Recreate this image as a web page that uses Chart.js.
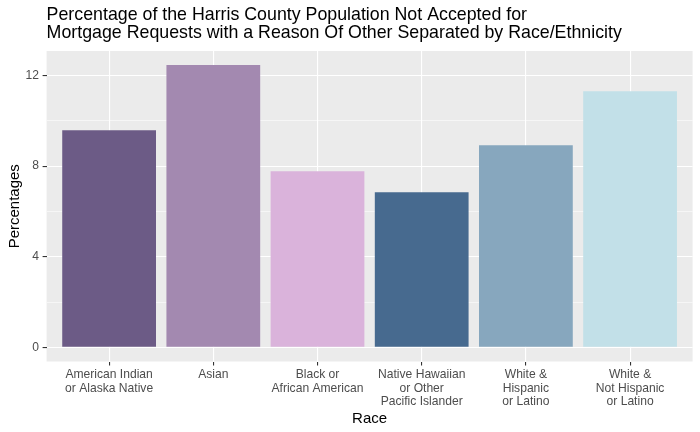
<!DOCTYPE html>
<html>
<head>
<meta charset="utf-8">
<script src="https://cdn.jsdelivr.net/npm/chart.js@4"></script>
<style>
  html, body { margin: 0; padding: 0; background: #ffffff; }
  #wrap { width: 700px; height: 432px; }
</style>
</head>
<body>
<div id="wrap"><canvas id="c" width="700" height="432"></canvas></div>
<script>
// ---- data ----
const categories = [
  ["American Indian", "or Alaska Native"],
  ["Asian"],
  ["Black or", "African American"],
  ["Native Hawaiian", "or Other", "Pacific Islander"],
  ["White &", "Hispanic", "or Latino"],
  ["White &", "Not Hispanic", "or Latino"]
];
const percentages = [9.59, 12.46, 7.78, 6.85, 8.92, 11.31];
const barColors = ["#6C5B86", "#A389B0", "#DAB3DB", "#476A8F", "#87A7BE", "#C2E0E8"];
const yTickValues = [0, 4, 8, 12];
const yMinorValues = [2, 6, 10];
const titleLines = [
  "Percentage of the Harris County Population Not Accepted for",
  "Mortgage Requests with a Reason Of Other Separated by Race/Ethnicity"
];
const xTitle = "Race";
const yTitle = "Percentages";

// ---- chart ----
const FONT = "'Liberation Sans', Arial, sans-serif";
const maxVal = Math.max(...percentages);
const expand = maxVal * 0.05;

const panelBg = {
  id: 'panelBg',
  beforeDraw(chart) {
    const a = chart.chartArea, ctx = chart.ctx;
    ctx.save();
    ctx.fillStyle = '#EBEBEB';
    ctx.fillRect(a.left, a.top, a.right - a.left, a.bottom - a.top);
    ctx.restore();
  }
};

new Chart(document.getElementById('c'), {
  type: 'bar',
  data: {
    datasets: [{
      data: percentages.map((v, i) => ({ x: i, y: v })),
      backgroundColor: barColors,
      borderWidth: 0,
      barPercentage: 0.9,
      categoryPercentage: 1.0
    }]
  },
  options: {
    responsive: false,
    animation: false,
    devicePixelRatio: 1,
    layout: { padding: { left: 0, right: 7.4, top: 0, bottom: 0 } },
    plugins: {
      legend: { display: false },
      tooltip: { enabled: false },
      title: {
        display: true,
        text: titleLines,
        align: 'start',
        fullSize: false,
        color: '#000000',
        font: { family: FONT, size: 17.8, weight: 'normal', lineHeight: '18px' },
        padding: { top: 6.5, bottom: 8.5 }
      }
    },
    scales: {
      x: {
        type: 'linear',
        offset: false,
        min: -0.6,
        max: categories.length - 1 + 0.6,
        afterBuildTicks(scale) {
          scale.ticks = categories.map((c, i) => ({ value: i }));
        },
        afterFit(scale) { scale.height = 70.5; },
        border: { display: false },
        grid: {
          offset: false,
          color: '#FFFFFF',
          lineWidth: 1.1,
          drawTicks: true,
          tickLength: 4,
          tickColor: '#333333',
          tickWidth: 1.1
        },
        ticks: {
          autoSkip: false,
          maxRotation: 0,
          minRotation: 0,
          padding: 3,
          color: '#4D4D4D',
          font: { family: FONT, size: 12.1, lineHeight: '13.3px' },
          callback: (v) => categories[v] || ''
        },
        title: {
          display: true,
          text: xTitle,
          color: '#000000',
          font: { family: FONT, size: 15, lineHeight: 1.2 },
          padding: { top: 0, bottom: 4.5 }
        }
      },
      y: {
        type: 'linear',
        min: -expand,
        max: maxVal + expand,
        afterBuildTicks(scale) {
          const all = yTickValues.concat(yMinorValues).sort((a, b) => a - b);
          scale.ticks = all.map(v => ({ value: v }));
        },
        afterFit(scale) { scale.width = 46.6; },
        border: { display: false },
        grid: {
          color: '#FFFFFF',
          lineWidth: (ctx) => (ctx.tick && yTickValues.includes(ctx.tick.value)) ? 1.1 : 0.55,
          drawTicks: true,
          tickLength: 4,
          tickColor: (ctx) => (ctx.tick && yTickValues.includes(ctx.tick.value)) ? '#333333' : 'rgba(0,0,0,0)',
          tickWidth: 1.1
        },
        ticks: {
          padding: 3.6,
          color: '#4D4D4D',
          font: { family: FONT, size: 12.1 },
          callback: (v) => yTickValues.includes(v) ? String(v) : ''
        },
        title: {
          display: true,
          text: yTitle,
          color: '#000000',
          font: { family: FONT, size: 15, lineHeight: 1.2 },
          padding: { top: 5.5, bottom: 0 }
        }
      }
    }
  },
  plugins: [panelBg]
});
</script>
</body>
</html>
